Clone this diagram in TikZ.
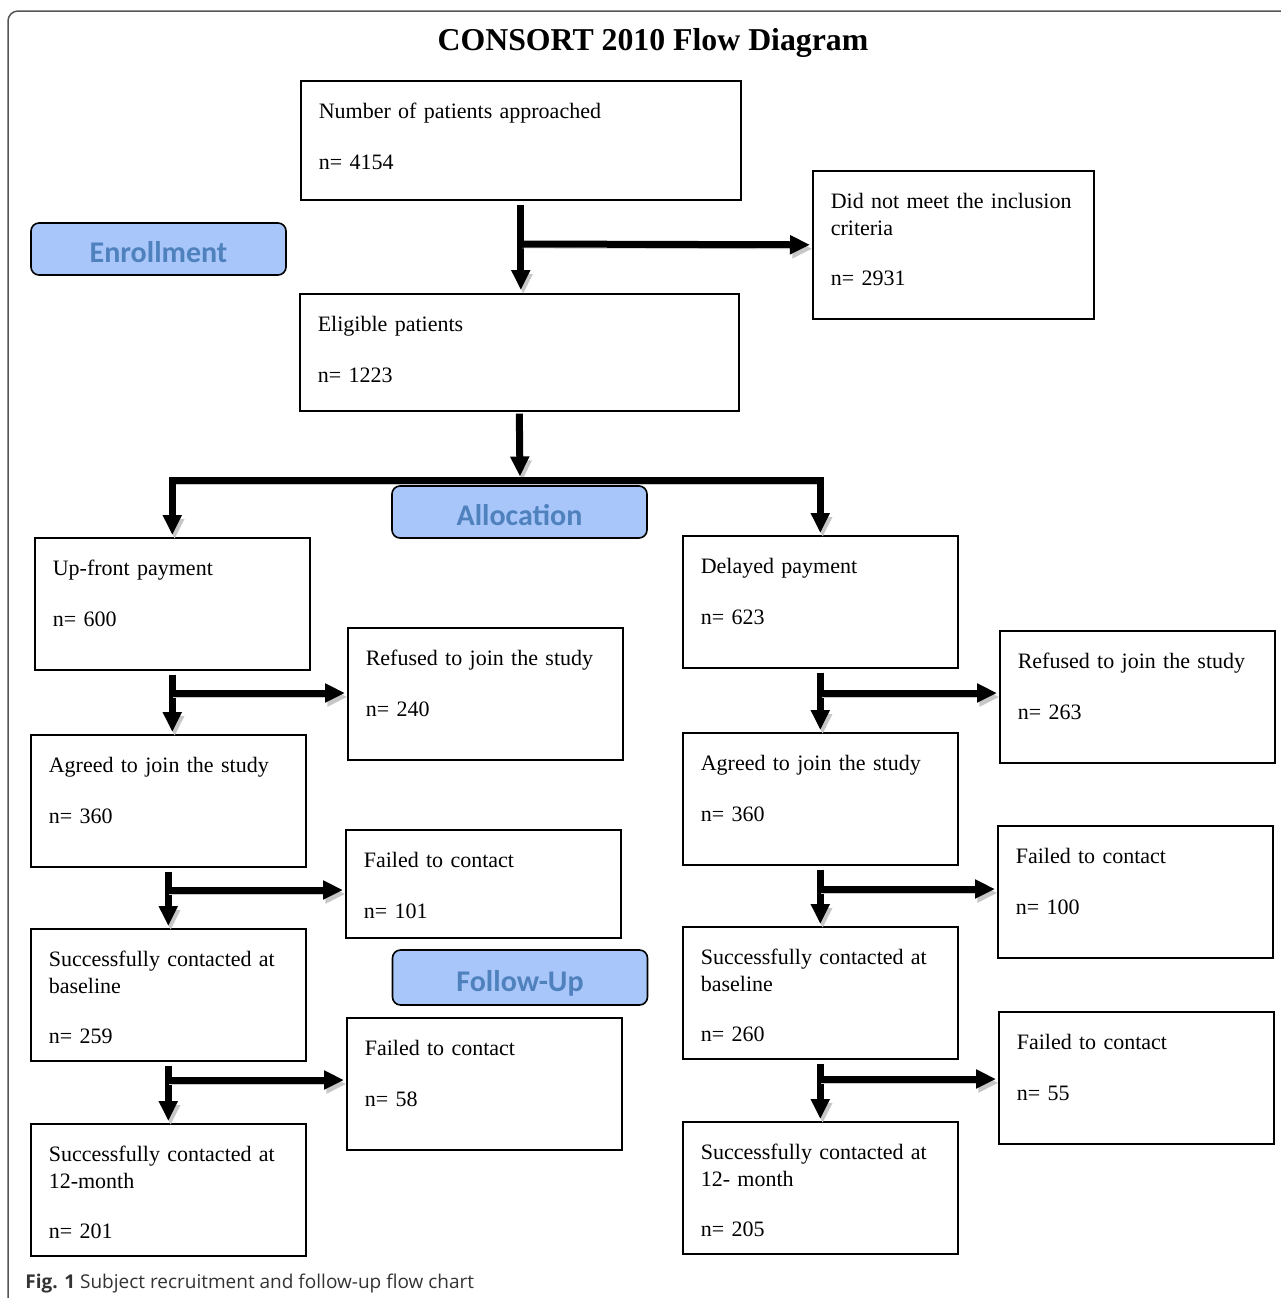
\documentclass[tikz,border=0pt]{standalone}
\usepackage{fontspec}
\setmainfont{Liberation Serif}
\newfontfamily\stagefont{Carlito}
\newfontfamily\captionfont{Open Sans}
\usetikzlibrary{arrows.meta}
\definecolor{stagefill}{RGB}{168,198,250}
\definecolor{stagetext}{RGB}{79,129,189}
\definecolor{framegray}{RGB}{85,85,85}
\newcommand{\ngap}{\\[12pt]}

\begin{document}
\begin{tikzpicture}[x=0.5pt, y=-0.5pt,
    box/.style={draw, line width=0.8pt, anchor=north west, align=left,
      inner xsep=9pt, inner ysep=0pt, text width=119.5pt,
      text height=19pt, text depth=47pt,
      font=\fontsize{11}{13.2}\selectfont},
    stage/.style={draw, line width=0.8pt, rounded corners=4pt, fill=stagefill,
      text=stagetext, font=\stagefont\bfseries\fontsize{15}{18}\selectfont,
      minimum width=127.5pt, minimum height=26pt, inner sep=0pt,
      text height=13.5pt, text depth=0pt},
    flow/.style={line width=3.5pt, -{Triangle[length=10pt, width=9pt]},
      shorten <=2pt, shorten >=1pt,
      preaction={draw=black!22, transform canvas={shift={(1.2pt,-2pt)}}}}]
    \useasboundingbox (0,0) rectangle (1281,1298);
    \begin{scope}
        \clip (0,0) rectangle (1281,1298);
        \draw[framegray, line width=0.75pt, rounded corners=5pt] (8,1320) |- (1300,11);
    \end{scope}
    \node[anchor=base, inner sep=0pt, font=\bfseries\fontsize{15.9}{18}\selectfont] (title) at (653,50) {CONSORT 2010 Flow Diagram};

    \node[box, text width=202pt, text depth=40.5pt] (approached) at (300,80) {Number of patients approached\ngap n= 4154};
    \node[box, text width=122.5pt, text depth=55pt] (excluded) at (812,170) {Did not meet the inclusion\\criteria\ngap n= 2931};
    \node[box, text width=201.5pt, text depth=39.5pt] (eligible) at (299,293) {Eligible patients\ngap n= 1223};

    \node[box] (upfront) at (34,537) {Up-front payment\ngap n= 600};
    \node[box] (refusedA) at (347,627) {Refused to join the study\ngap n= 240};
    \node[box] (agreedA) at (30,734) {Agreed to join the study\ngap n= 360};
    \node[box, text depth=35pt] (failedA) at (345,829) {Failed to contact\ngap n= 101};
    \node[box] (baselineA) at (30,928) {Successfully contacted at\\baseline\ngap n= 259};
    \node[box] (lostA) at (346,1017) {Failed to contact\ngap n= 58};
    \node[box] (monthA) at (30,1123) {Successfully contacted at\\12-month\ngap n= 201};

    \node[box] (delayed) at (682,535) {Delayed payment\ngap n= 623};
    \node[box] (refusedB) at (999,630) {Refused to join the study\ngap n= 263};
    \node[box] (agreedB) at (682,732) {Agreed to join the study\ngap n= 360};
    \node[box] (failedB) at (997,825) {Failed to contact\ngap n= 100};
    \node[box] (baselineB) at (682,926) {Successfully contacted at\\baseline\ngap n= 260};
    \node[box] (lostB) at (998,1011) {Failed to contact\ngap n= 55};
    \node[box] (monthB) at (682,1121) {Successfully contacted at\\12- month\ngap n= 205};

    \node[stage] (enroll) at (158.5,249) {Enrollment};
    \node[stage] (alloc) at (519.5,512) {Allocation};
    \node[stage, minimum height=27.5pt] (follow) at (520,977.5) {Follow-Up};

    \coordinate (j0) at (520,244);
    \coordinate (bar) at (520,480);
    \coordinate (j1) at (171,693);
    \coordinate (j2) at (167,890);
    \coordinate (j3) at (167,1080);
    \coordinate (k1) at (819.5,693);
    \coordinate (k2) at (819,889);
    \coordinate (k3) at (819,1079);

    \draw[flow, shorten >=1.5pt] (approached.south) -- (approached.south |- eligible.north);
    \draw[flow, shorten <=0pt] (j0) -- (excluded.west);
    \draw[flow, shorten >=1.75pt, shorten <=1pt] (eligible.south) -- (bar);
    \draw[flow, shorten <=0pt] (bar) -| (upfront.north);
    \draw[flow, shorten <=0pt] (bar) -| (delayed.north);

    \draw[flow] (upfront.south) -- (upfront.south |- agreedA.north);
    \draw[flow, shorten <=0pt] (j1) -- (j1 -| refusedA.west);
    \draw[flow] (agreedA.south) -- (agreedA.south |- baselineA.north);
    \draw[flow, shorten <=0pt] (j2) -- (j2 -| failedA.west);
    \draw[flow] (baselineA.south) -- (baselineA.south |- monthA.north);
    \draw[flow, shorten <=0pt] (j3) -- (j3 -| lostA.west);

    \draw[flow] (delayed.south) -- (delayed.south |- agreedB.north);
    \draw[flow, shorten <=0pt] (k1) -- (k1 -| refusedB.west);
    \draw[flow] (agreedB.south) -- (agreedB.south |- baselineB.north);
    \draw[flow, shorten <=0pt] (k2) -- (k2 -| failedB.west);
    \draw[flow] (baselineB.south) -- (baselineB.south |- monthB.north);
    \draw[flow, shorten <=0pt] (k3) -- (k3 -| lostB.west);

    \node[anchor=base west, inner sep=0pt, text=black!80, font=\captionfont\fontsize{9.5}{11}\selectfont] (caption) at (25,1288) {\textbf{Fig. 1} Subject recruitment and follow-up flow chart};
\end{tikzpicture}
\end{document}
